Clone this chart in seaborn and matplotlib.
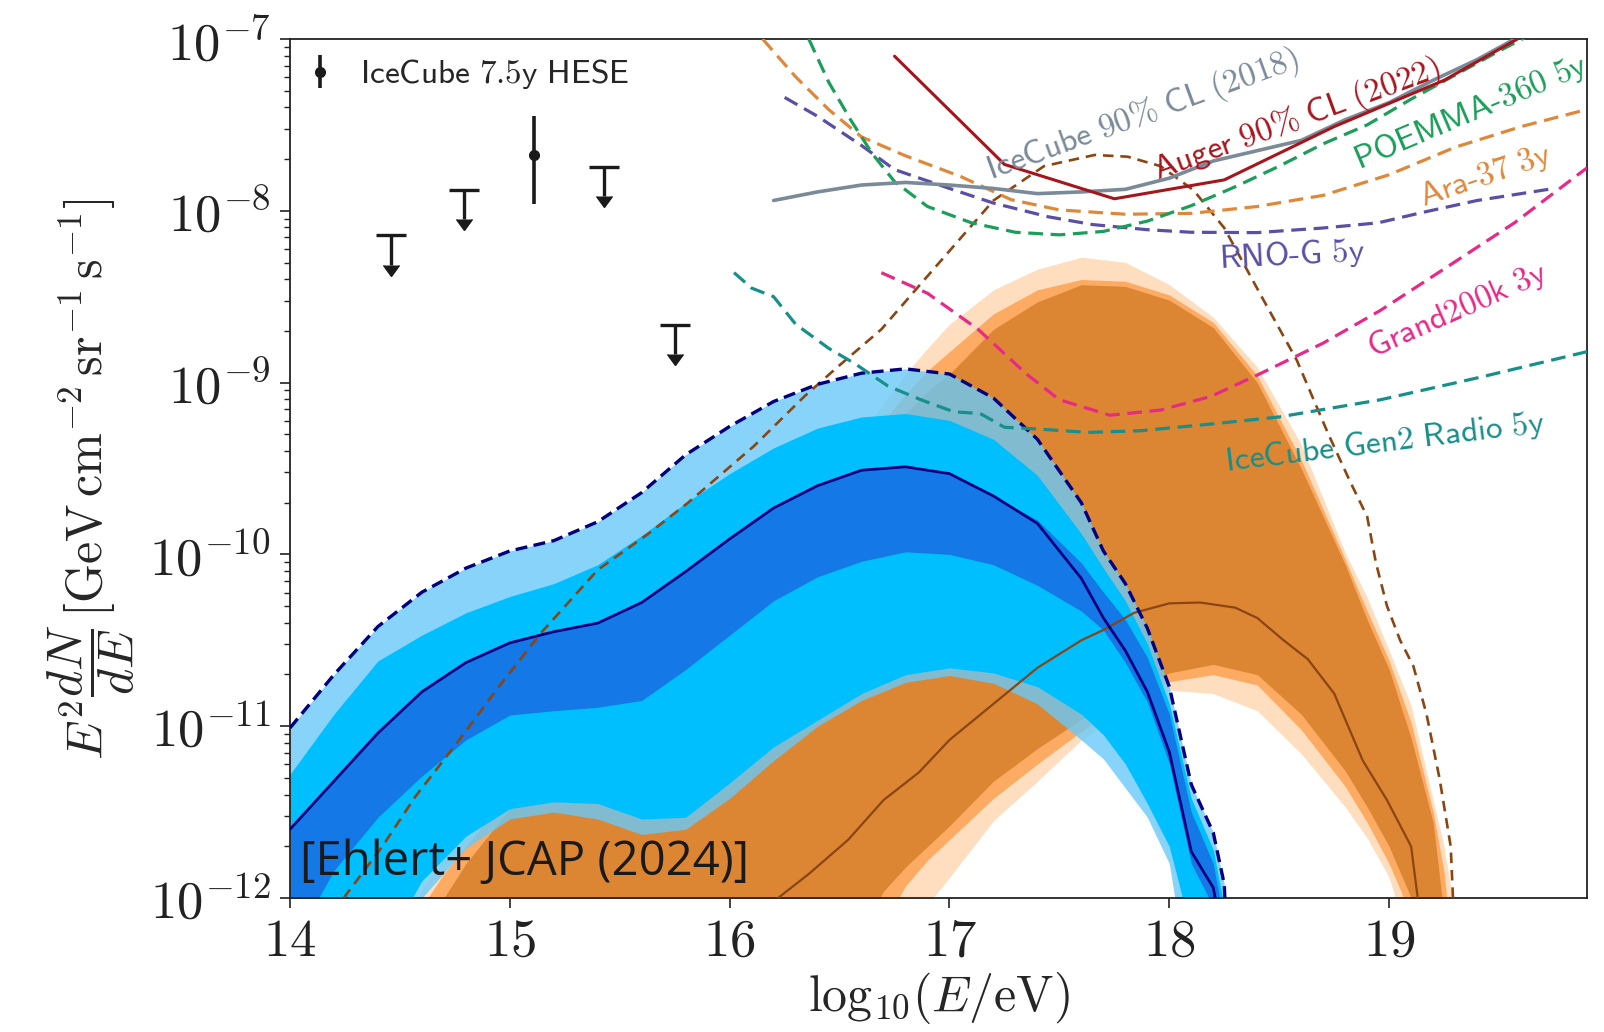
import numpy as np
import matplotlib
matplotlib.use("Agg")
import matplotlib.pyplot as plt
import matplotlib.lines as mlines
from matplotlib.ticker import FixedLocator, LogLocator, FuncFormatter, NullFormatter, NullLocator
import seaborn as sns

# ---------------- cosmogenic (blue) model: log10 flux envelopes ----------------
blue_log_e = [14.0, 14.2, 14.4, 14.6, 14.8, 15.0, 15.2, 15.4, 15.6, 15.8, 16.0, 16.2, 16.4,
              16.6, 16.8, 17.0, 17.2, 17.4, 17.6, 17.7, 17.8, 17.9, 18.0, 18.1, 18.2, 18.25, 18.3]
blue_hi95 = [-11.01, -10.70, -10.42, -10.22, -10.08, -9.98, -9.92, -9.81, -9.64, -9.42, -9.255, -9.11, -9.01,
             -8.945, -8.92, -8.95, -9.09, -9.33, -9.70, -9.98, -10.17, -10.43, -10.77, -11.34, -11.62, -11.92, -13.5]
blue_hi68 = [-11.28, -10.93, -10.62, -10.47, -10.34, -10.245, -10.17, -10.06, -9.89, -9.70, -9.53, -9.38, -9.265,
             -9.20, -9.18, -9.22, -9.33, -9.54, -9.88, -10.08, -10.27, -10.52, -10.87, -11.42, -11.72, -12.05, -13.5]
blue_hi_in = [-11.60, -11.32, -11.04, -10.80, -10.63, -10.515, -10.45, -10.40, -10.28, -10.10, -9.91, -9.73, -9.60,
              -9.51, -9.49, -9.53, -9.66, -9.80, -10.05, -10.22, -10.38, -10.60, -10.93, -11.50, -11.80, -12.15, -13.5]
blue_median = [-11.60, -11.32, -11.04, -10.80, -10.63, -10.515, -10.45, -10.40, -10.28, -10.10, -9.91, -9.73, -9.60,
               -9.51, -9.49, -9.53, -9.66, -9.82, -10.14, -10.37, -10.56, -10.80, -11.15, -11.73, -11.94, -12.3, -13.5]
blue_lo_in = [-12.30, -11.84, -11.53, -11.29, -11.08, -10.935, -10.91, -10.89, -10.85, -10.67, -10.47, -10.27, -10.13,
              -10.04, -9.985, -10.00, -10.06, -10.18, -10.33, -10.44, -10.63, -10.86, -11.22, -11.80, -12.05, -12.5, -13.5]
blue_lo68 = [-13.5, -13.0, -12.35, -11.90, -11.64, -11.48, -11.44, -11.45, -11.54, -11.53, -11.33, -11.12, -10.965,
             -10.81, -10.70, -10.66, -10.69, -10.77, -10.93, -11.05, -11.22, -11.45, -11.70, -12.2, -13.0, -13.5, -13.5]
blue_lo95 = [-14.0, -13.5, -12.6, -12.0, -11.71, -11.54, -11.50, -11.54, -11.63, -11.60, -11.42, -11.20, -11.00,
             -10.85, -10.745, -10.705, -10.75, -10.87, -11.08, -11.19, -11.36, -11.53, -11.80, -12.6, -13.5, -14.0, -14.0]

# ---------------- source (orange) model: log10 flux envelopes ----------------
orange_log_e = [14.4, 14.6, 14.7, 14.8, 15.0, 15.4, 15.8, 16.2, 16.6, 16.7, 16.8, 16.9, 17.0, 17.2, 17.4,
                17.6, 17.8, 18.0, 18.2, 18.4, 18.6, 18.8, 18.9, 19.0, 19.1, 19.2, 19.25, 19.3, 19.4]
orange_hi95 = [-12.6, -11.95, -11.78, -11.62, -11.30, -10.90, -10.50, -10.00, -9.30, -9.12, -8.95, -8.80, -8.66, -8.46, -8.34,
               -8.27, -8.30, -8.43, -8.62, -8.91, -9.36, -9.99, -10.25, -10.56, -10.88, -11.43, -11.70, -12.1, -13.5]
orange_hi68 = [-13.0, -12.05, -11.86, -11.70, -11.38, -10.95, -10.55, -10.07, -9.40, -9.22, -9.07, -8.93, -8.82, -8.60, -8.46,
               -8.40, -8.41, -8.49, -8.65, -8.96, -9.45, -10.03, -10.33, -10.62, -10.98, -11.50, -11.85, -12.5, -13.5]
orange_hi_in = [-13.5, -12.30, -12.00, -11.80, -11.48, -11.00, -10.60, -10.15, -9.50, -9.33, -9.18, -9.05, -8.95, -8.69, -8.53,
                -8.43, -8.44, -8.52, -8.68, -9.00, -9.50, -10.06, -10.38, -10.67, -11.07, -11.56, -12.10, -13.0, -13.5]
orange_lo_in = [-14.0, -14.0, -14.0, -14.0, -14.0, -14.0, -14.0, -14.0, -12.2, -11.96, -11.82, -11.70, -11.58, -11.32, -11.13,
                -10.96, -10.80, -10.69, -10.64, -10.70, -10.93, -11.26, -11.47, -11.70, -12.00, -13.0, -13.5, -14.0, -14.0]
orange_lo68 = [-14.0, -14.0, -14.0, -14.0, -14.0, -14.0, -14.0, -14.0, -14.0, -12.15, -11.93, -11.78, -11.66, -11.42, -11.22,
               -11.03, -10.86, -10.74, -10.70, -10.76, -11.02, -11.35, -11.56, -11.80, -12.1, -13.5, -14.0, -14.0, -14.0]
orange_lo95 = [-14.0, -14.0, -14.0, -14.0, -14.0, -14.0, -14.0, -14.0, -14.0, -14.0, -12.2, -12.04, -11.88, -11.55, -11.32,
               -11.08, -10.91, -10.79, -10.81, -10.91, -11.16, -11.47, -11.65, -11.88, -12.3, -14.0, -14.0, -14.0, -14.0]

orange_median_log_e = [16.15, 16.22, 16.36, 16.54, 16.7, 16.86, 17.0, 17.2, 17.4, 17.6, 17.7, 17.84, 18.0, 18.14,
                       18.3, 18.4, 18.52, 18.63, 18.75, 18.88, 18.99, 19.1, 19.13, 19.15]
orange_median = [-12.1, -12.0, -11.86, -11.66, -11.43, -11.27, -11.08, -10.87, -10.66, -10.50, -10.44, -10.34, -10.285, -10.28,
                 -10.31, -10.37, -10.50, -10.61, -10.81, -11.20, -11.43, -11.70, -12.0, -12.5]

brown_dash_log_e = [14.2, 14.25, 14.42, 14.57, 14.77, 14.95, 15.14, 15.4, 15.63, 15.81, 16.11, 16.34, 16.49, 16.69,
                    16.9, 17.2, 17.43, 17.66, 17.81, 17.96, 18.11, 18.25, 18.42, 18.58, 18.72, 18.82, 18.9, 18.94,
                    18.99, 19.05, 19.11, 19.17, 19.23, 19.28, 19.29, 19.31]
brown_dash = [-12.3, -11.99, -11.70, -11.41, -11.08, -10.77, -10.46, -10.09, -9.88, -9.70, -9.37, -9.08, -8.91, -8.69,
              -8.38, -7.94, -7.74, -7.675, -7.685, -7.74, -7.88, -8.10, -8.50, -8.87, -9.29, -9.57, -9.78, -10.05,
              -10.30, -10.50, -10.65, -10.93, -11.31, -11.70, -11.99, -12.4]

# ---------------- limits and sensitivities (log10 flux) ----------------
ic2018_log_e = [16.2, 16.4, 16.6, 16.8, 17.0, 17.2, 17.4, 17.6, 17.8, 18.0, 18.2, 18.4, 18.6, 18.8, 19.0, 19.2, 19.4, 19.6]
ic2018 = [-7.94, -7.89, -7.85, -7.835, -7.85, -7.87, -7.90, -7.89, -7.875, -7.81, -7.71, -7.65, -7.59, -7.47, -7.37, -7.24, -7.12, -6.98]

auger_log_e = [16.75, 17.25, 17.75, 18.25, 18.75, 19.25, 19.75]
auger = [-7.10, -7.73, -7.93, -7.82, -7.51, -7.24, -6.88]

poemma_log_e = [16.36, 16.45, 16.55, 16.65, 16.75, 16.9, 17.1, 17.3, 17.5, 17.7, 17.9, 18.1, 18.3, 18.5, 18.7,
                18.9, 19.1, 19.3, 19.5, 19.65]
poemma = [-7.0, -7.25, -7.47, -7.67, -7.83, -7.975, -8.07, -8.125, -8.14, -8.12, -8.06, -7.97, -7.86, -7.74, -7.61,
          -7.50, -7.35, -7.21, -7.07, -6.97]

ara_log_e = [16.15, 16.3, 16.45, 16.6, 16.8, 17.05, 17.28, 17.5, 17.8, 18.1, 18.4, 18.7, 19.0, 19.3, 19.6, 19.9]
ara = [-7.0, -7.22, -7.41, -7.57, -7.68, -7.80, -7.935, -7.995, -8.02, -8.015, -7.975, -7.91, -7.79, -7.63, -7.51, -7.41]

rno_log_e = [16.25, 16.4, 16.6, 16.75, 17.0, 17.2, 17.45, 17.65, 17.9, 18.1, 18.4, 18.7, 18.95, 19.15, 19.4, 19.75]
rno = [-7.34, -7.45, -7.62, -7.76, -7.87, -7.955, -8.035, -8.08, -8.11, -8.125, -8.127, -8.10, -8.07, -8.01, -7.94, -7.87]

grand_log_e = [16.69, 16.9, 17.13, 17.35, 17.5, 17.73, 17.96, 18.19, 18.41, 18.7, 18.96, 19.26, 19.57, 19.9]
grand = [-8.36, -8.48, -8.69, -8.95, -9.10, -9.19, -9.16, -9.08, -8.95, -8.77, -8.58, -8.33, -8.07, -7.75]

gen2_log_e = [16.02, 16.1, 16.2, 16.3, 16.45, 16.57, 16.72, 16.87, 17.02, 17.14, 17.25, 17.4, 17.63, 17.87,
              18.2, 18.5, 18.96, 19.41, 19.9]
gen2 = [-8.36, -8.45, -8.50, -8.66, -8.80, -8.89, -9.02, -9.10, -9.17, -9.18, -9.26, -9.27, -9.29, -9.28,
        -9.24, -9.20, -9.10, -8.97, -8.82]

# ---------------- IceCube HESE data (linear flux) ----------------
hese_pt_log_e = [15.11]
hese_pt = [2.11e-8]
hese_pt_lo = [1.10e-8]
hese_pt_hi = [3.56e-8]
hese_ul_log_e = [14.46, 14.79, 15.43, 15.75]
hese_ul = [7.2e-9, 1.33e-8, 1.81e-8, 2.17e-9]

# ---------------- style ----------------
NAVY = "#000080"
LIGHT_BLUE = "#69c9f9"
DEEP_SKY = "#00bfff"
DODGER = "#1479e6"
PEACH = "#fedebe"
LIGHT_OR = "#fdaa63"
DARK_OR = "#dc8633"
BROWN = "#8b4513"

sns.set_theme(style="ticks")
plt.rcParams.update({
    "font.family": ["DejaVu Sans"],
    "mathtext.fontset": "cm",
    "axes.edgecolor": "#222222",
    "axes.linewidth": 1.3,
    "xtick.color": "#222222",
    "ytick.color": "#222222",
    "xtick.major.size": 7,
    "ytick.major.size": 7,
    "ytick.minor.size": 4,
    "xtick.major.width": 1.2,
    "ytick.major.width": 1.2,
    "ytick.minor.width": 1.0,
})


def flux(v):
    return 10.0 ** np.asarray(v, dtype=float)


fig = plt.figure(figsize=(16.04, 10.32), dpi=100)
ax = fig.add_axes([290 / 1604, 134 / 1032, 1297 / 1604, 859 / 1032])
ax.set_yscale("log")

# source model bands
ox = np.asarray(orange_log_e)
ax.fill_between(ox, flux(orange_lo95), flux(orange_hi95), color=PEACH, lw=0, zorder=1)
ax.fill_between(ox, flux(orange_lo68), flux(orange_hi68), color=LIGHT_OR, lw=0, zorder=1.1)
ax.fill_between(ox, flux(orange_lo_in), flux(orange_hi_in), color=DARK_OR, lw=0, zorder=1.2)

# cosmogenic model bands
bx = np.asarray(blue_log_e)
ax.fill_between(bx, flux(blue_lo95), flux(blue_hi95), color=LIGHT_BLUE, alpha=0.8, lw=0, zorder=2)
ax.fill_between(bx, flux(blue_lo68), flux(blue_hi68), color=DEEP_SKY, lw=0, zorder=2.1)
ax.fill_between(bx, flux(blue_lo_in), flux(blue_hi_in), color=DODGER, lw=0, zorder=2.2)


def curve(xv, yv, color, lw, ls="-", z=3):
    sns.lineplot(x=np.asarray(xv, dtype=float), y=flux(yv), ax=ax, color=color, linewidth=lw,
                 linestyle=ls, sort=False, estimator=None, zorder=z)


curve(brown_dash_log_e, brown_dash, BROWN, 1.9, (0, (4.0, 2.6)), 3)
curve(orange_median_log_e, orange_median, BROWN, 1.6, "-", 3.1)
curve(blue_log_e, blue_median, NAVY, 2.0, "-", 3.5)
curve(blue_log_e, blue_hi95, NAVY, 2.4, (0, (3.6, 1.9)), 3.6)

dash = (0, (4.6, 2.4))
curve(gen2_log_e, gen2, "#178f8a", 2.3, dash, 4)
curve(grand_log_e, grand, "#e7298a", 2.3, dash, 4)
curve(rno_log_e, rno, "#5a4fa6", 2.3, dash, 4)
curve(ara_log_e, ara, "#e0883a", 2.3, dash, 4)
curve(poemma_log_e, poemma, "#1b9e5a", 2.3, dash, 4)
curve(ic2018_log_e, ic2018, "#7a8a99", 2.6, "-", 4.1)
curve(auger_log_e, auger, "#a8141c", 2.2, "-", 4.2)

# HESE measurement and upper limits
pt = np.asarray(hese_pt)
hese = ax.errorbar(hese_pt_log_e, pt, yerr=[pt - np.asarray(hese_pt_lo), np.asarray(hese_pt_hi) - pt],
                   fmt="o", color="k", ms=7, elinewidth=2.6, capsize=0, zorder=6,
                   label=r"$\mathsf{IceCube\ 7.5y\ HESE}$")
ul = np.asarray(hese_ul)
ul_end = ul * 10 ** (-0.17)
ax.vlines(hese_ul_log_e, ul_end, ul, color="k", lw=2.4, zorder=6)
ax.plot(hese_ul_log_e, ul, ls="none", marker="_", ms=22, mew=2.4, color="k", zorder=6)
ax.plot(hese_ul_log_e, ul_end, ls="none", marker=mlines.CARETDOWNBASE, ms=11, color="k", zorder=6)

ax.legend(handles=[hese], loc="upper left", frameon=False, fontsize=24, handlelength=0.7,
          handletextpad=0.85, borderaxespad=0.1, borderpad=0.45)

# curve labels
label_kw = dict(ha="center", va="center", rotation_mode="anchor", fontsize=24, zorder=7)
ax.text(17.88, flux(-7.44), r"$\mathsf{IceCube\ 90\%\ CL\ (2018)}$", color="#7a8a99", rotation=20, **label_kw)
ax.text(18.58, flux(-7.47), r"$\mathsf{Auger\ 90\%\ CL\ (2022)}$", color="#a8141c", rotation=20, **label_kw)
ax.text(19.37, flux(-7.43), r"$\mathsf{POEMMA}\text{-}\mathsf{360\ 5y}$", color="#1b9e5a", rotation=23, **label_kw)
ax.text(19.44, flux(-7.80), r"$\mathsf{Ara}\text{-}\mathsf{37\ 3y}$", color="#e0883a", rotation=19, **label_kw)
ax.text(18.56, flux(-8.26), r"$\mathsf{RNO}\text{-}\mathsf{G\ 5y}$", color="#5a4fa6", rotation=3, **label_kw)
ax.text(19.31, flux(-8.58), r"$\mathsf{Grand200k\ 3y}$", color="#e7298a", rotation=24, **label_kw)
ax.text(18.98, flux(-9.35), r"$\mathsf{IceCube\ Gen2\ Radio\ 5y}$", color="#178f8a", rotation=7, **label_kw)

ax.text(0.008, 0.027, "[Ehlert+ JCAP (2024)]", transform=ax.transAxes, fontsize=34,
        family=["Open Sans", "DejaVu Sans"], ha="left", va="baseline", color="k", zorder=10)

# axes
ax.set_xlim(14, 19.9)
ax.set_ylim(1e-12, 1e-7)
ax.xaxis.set_major_locator(FixedLocator([14, 15, 16, 17, 18, 19]))
ax.xaxis.set_major_formatter(FuncFormatter(lambda v, _: r"$%d$" % round(v)))
ax.xaxis.set_minor_locator(NullLocator())
ax.yaxis.set_major_locator(LogLocator(base=10, numticks=10))
ax.yaxis.set_minor_locator(LogLocator(base=10, subs=np.arange(2, 10), numticks=20))
ax.yaxis.set_minor_formatter(NullFormatter())
ax.yaxis.set_major_formatter(FuncFormatter(lambda v, _: r"$10^{%d}$" % round(np.log10(v))))
ax.tick_params(axis="x", which="major", labelsize=38, pad=5, direction="out")
ax.tick_params(axis="y", which="both", labelsize=38, pad=7, direction="out")
for side in ("top", "right", "left", "bottom"):
    ax.spines[side].set_visible(True)

ax.set_xlabel(r"$\mathrm{log}_{10}(E/\mathrm{eV})$", fontsize=36)
ax.xaxis.set_label_coords(0.5, -0.084)
ax.set_ylabel(r"$E^2\dfrac{dN}{dE}\,[\mathrm{GeV\,cm^{-2}\,sr^{-1}\,s^{-1}}]$", fontsize=36)
ax.yaxis.set_label_coords(-0.118, 0.487)

fig.savefig("out.png", dpi=100)
